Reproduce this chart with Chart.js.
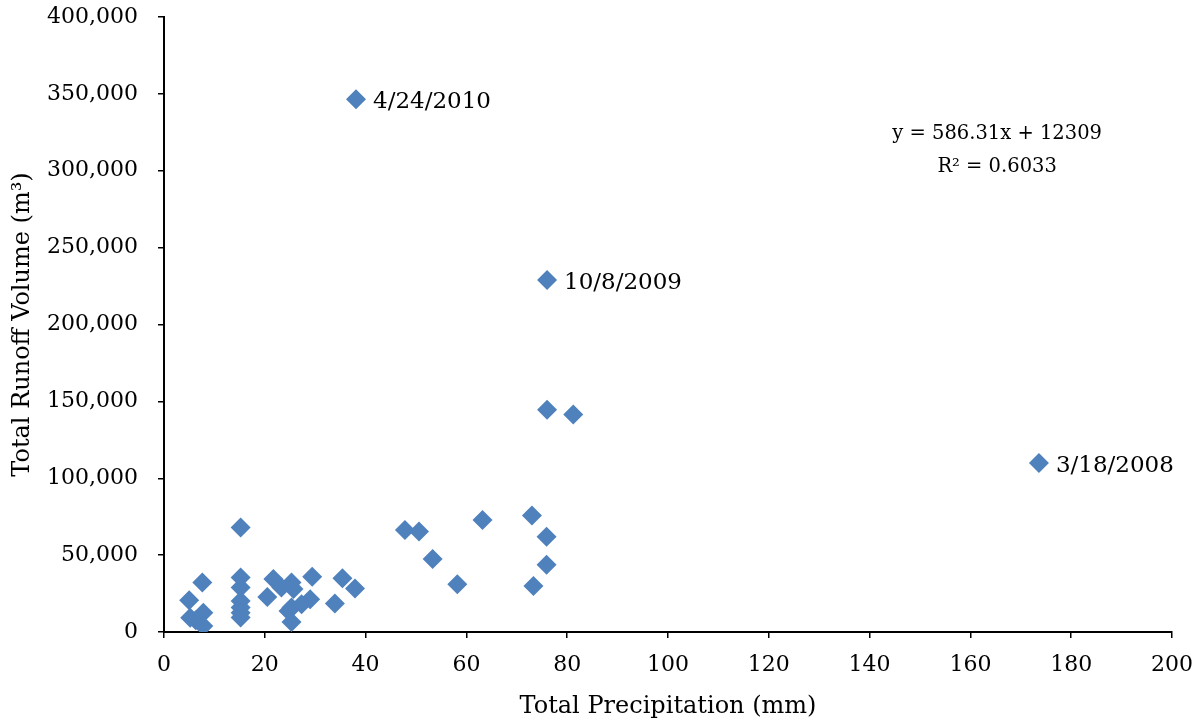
<!DOCTYPE html>
<html>
<head>
<meta charset="utf-8">
<script src="https://cdn.jsdelivr.net/npm/chart.js@4/dist/chart.umd.min.js"></script>
<style>
  html, body { margin: 0; padding: 0; background: #fff; }
  #wrap { width: 1199px; height: 726px; position: relative; }
</style>
</head>
<body>
<div id="wrap"><canvas id="runoff-chart"></canvas></div>
<script>
// rainfall events: total precipitation (mm) vs total runoff volume (m3)
let precip = [5.0, 5.2, 6.3, 7.6, 7.8, 7.8, 15.2, 15.2, 15.2, 15.2, 15.2, 15.2, 15.2,
    20.5, 21.7, 23.3, 25.3, 25.7, 25.3, 24.7, 25.3, 29.4, 29.0, 27.3, 33.9, 35.4, 37.9,
    47.8, 50.6, 53.3, 58.2, 63.2, 73.0, 75.9, 75.9, 73.3, 38.1, 76.0, 76.0, 81.2, 173.6]
let runoff = [20700, 9300, 7600, 32200, 12600, 3900, 68000, 35500, 28900, 20200, 15900, 12600, 9500,
    22800, 34400, 28900, 32200, 27900, 15900, 13700, 6500, 36000, 21300, 18100, 18500, 35000, 28300,
    66400, 65300, 47400, 31100, 72900, 75700, 62000, 43700, 30000, 346500, 229000, 144500, 141500, 110000]
// dates written next to the outliers
let event_labels = {36: "4/24/2010", 37: "10/8/2009", 40: "3/18/2008"}

let x_ticks = [0, 20, 40, 60, 80, 100, 120, 140, 160, 180, 200]
let y_ticks = [0, 50000, 100000, 150000, 200000, 250000, 300000, 350000, 400000]

let trend_text = ["y = 586.31x + 12309", "R\u00b2 = 0.6033"]

const FONT = "'DejaVu Serif', 'Liberation Serif', serif"

let points = []
for (let i = 0; i < precip.length; i++) {
    points.push({"x": precip[i], "y": runoff[i]})
}

const labelPlugin = {
    id: "labels",
    afterDatasetsDraw(chart) {
        let ctx = chart.ctx
        let meta = chart.getDatasetMeta(0)
        ctx.save()
        ctx.fillStyle = "#000"
        ctx.font = "23px " + FONT
        ctx.textBaseline = "middle"
        ctx.textAlign = "left"
        for (let idx in event_labels) {
            let el = meta.data[idx]
            ctx.fillText(event_labels[idx], el.x + 17, el.y + 3)
        }
        // trendline equation (Excel style)
        let sx = chart.scales.x
        let sy = chart.scales.y
        let cx = sx.getPixelForValue(165.3)
        let cy = sy.getPixelForValue(324000)
        ctx.font = "19.5px " + FONT
        ctx.textAlign = "center"
        ctx.fillText(trend_text[0], cx, cy)
        ctx.fillText(trend_text[1], cx, cy + 33)
        ctx.restore()
    }
}

// keep the plot box where the original has it, no room added for end labels
function no_pad(s) {
    s.paddingTop = 0
    s.paddingBottom = 0
    s.paddingLeft = 0
    s.paddingRight = 0
}

new Chart("runoff-chart", {
    type: "scatter",
    data: {
        datasets: [{
            label: "Runoff",
            data: points,
            pointStyle: "rectRot",
            pointRadius: 10,
            pointHoverRadius: 10,
            backgroundColor: "#4F81BD",
            borderColor: "#4F81BD",
            borderWidth: 0
        }]
    },
    options: {
        responsive: true,
        maintainAspectRatio: false,
        animation: false,
        layout: { padding: { top: 17, right: 27, left: 0, bottom: 0 } },
        plugins: { legend: { display: false }, tooltip: { enabled: false } },
        scales: {
            x: {
                type: "linear",
                min: 0, max: 200,
                afterBuildTicks: (s) => { s.ticks = x_ticks.map(v => ({value: v})) },
                afterFit: (s) => { s.height = 94; no_pad(s) },
                grid: { drawOnChartArea: false, drawTicks: true, tickLength: 6, color: "#000", lineWidth: 1.5 },
                border: { display: true, color: "#000", width: 2 },
                ticks: { color: "#000", font: { family: FONT, size: 22 }, padding: 14, maxRotation: 0 },
                title: { display: true, text: "Total Precipitation (mm)", color: "#000",
                    font: { family: FONT, size: 24 }, padding: { top: 0, bottom: 5 } }
            },
            y: {
                type: "linear",
                min: 0, max: 400000,
                afterBuildTicks: (s) => { s.ticks = y_ticks.map(v => ({value: v})) },
                afterFit: (s) => { s.width = 164; no_pad(s) },
                grid: { drawOnChartArea: false, drawTicks: true, tickLength: 6, color: "#000", lineWidth: 1.5 },
                border: { display: true, color: "#000", width: 2 },
                ticks: { color: "#000", font: { family: FONT, size: 22 }, padding: 20,
                    callback: (v) => v.toLocaleString("en-US") },
                title: { display: true, text: "Total Runoff Volume (m\u00b3)", color: "#000",
                    font: { family: FONT, size: 24 }, padding: { top: 8, bottom: 4 } }
            }
        }
    },
    plugins: [labelPlugin]
})
</script>
</body>
</html>
